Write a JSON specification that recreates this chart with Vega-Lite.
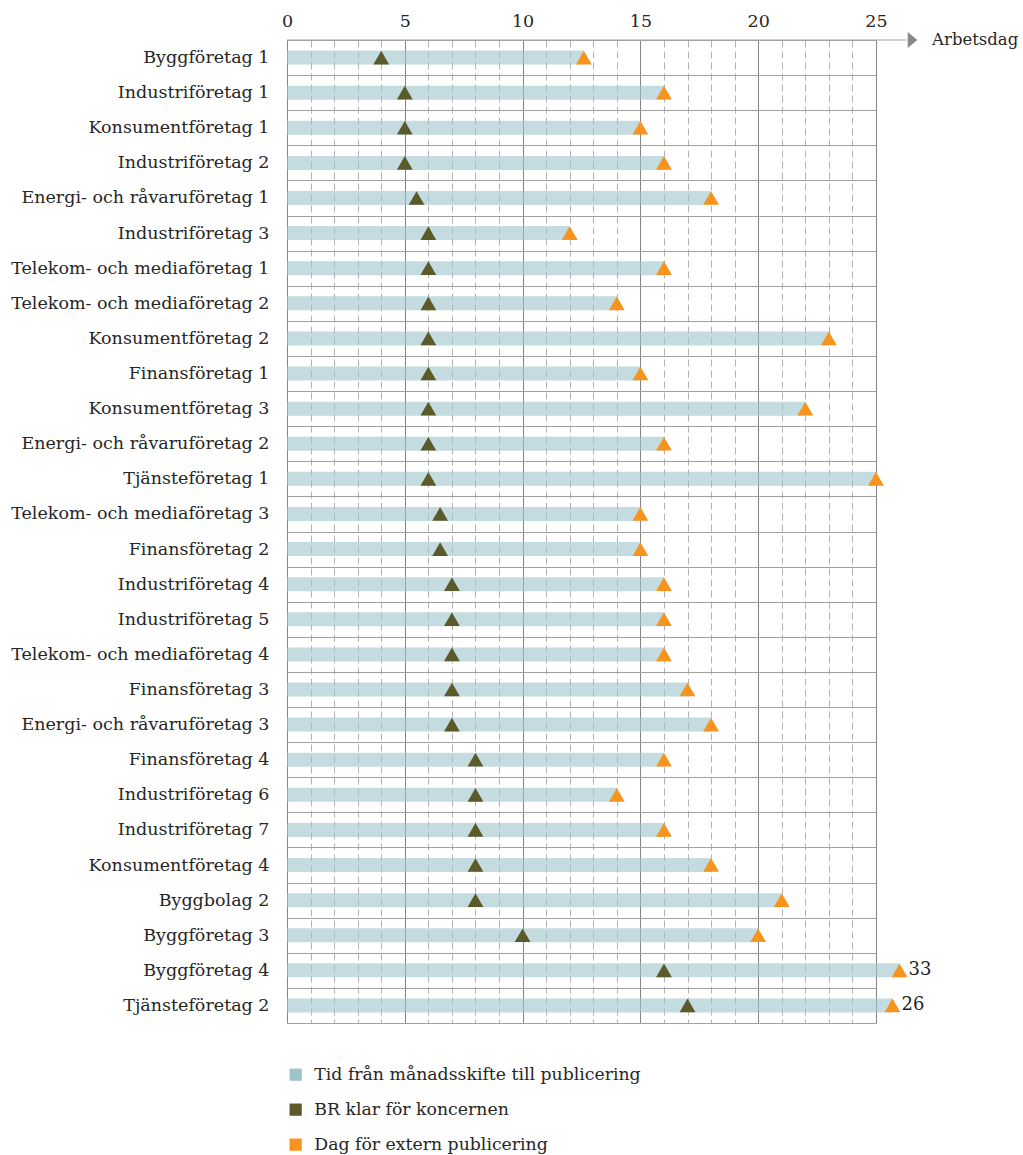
{
  "$schema": "https://vega.github.io/schema/vega-lite/v6.json",
  "autosize": "none",
  "padding": {"left": 287, "top": 40, "right": 147, "bottom": 132},
  "width": 589,
  "height": 983,
  "background": "white",
  "config": {
    "font": "DejaVu Serif",
    "view": {"stroke": null},
    "axisX": {
      "orient": "top",
      "title": null,
      "labelExpr": "datum.value % 5 === 0 ? datum.label : ''",
      "labelFlush": false,
      "domain": false,
      "ticks": false,
      "grid": true,
      "gridColor": {"condition": {"test": "datum.value % 5 === 0", "value": "#858585"}, "value": "#b3b3b3"},
      "gridDash": {"condition": {"test": "datum.value % 5 === 0", "value": []}, "value": [7, 4]},
      "gridWidth": 1,
      "labelFont": "DejaVu Serif",
      "labelFontSize": 17.5,
      "labelColor": "#262626",
      "labelPadding": 10
    }
  },
  "data": {
    "values": [
      {"company": "Byggföretag 1", "br": 4, "pub": 12.6, "label": ""},
      {"company": "Industriföretag 1", "br": 5, "pub": 16, "label": ""},
      {"company": "Konsumentföretag 1", "br": 5, "pub": 15, "label": ""},
      {"company": "Industriföretag 2", "br": 5, "pub": 16, "label": ""},
      {"company": "Energi- och råvaruföretag 1", "br": 5.5, "pub": 18, "label": ""},
      {"company": "Industriföretag 3", "br": 6, "pub": 12, "label": ""},
      {"company": "Telekom- och mediaföretag 1", "br": 6, "pub": 16, "label": ""},
      {"company": "Telekom- och mediaföretag 2", "br": 6, "pub": 14, "label": ""},
      {"company": "Konsumentföretag 2", "br": 6, "pub": 23, "label": ""},
      {"company": "Finansföretag 1", "br": 6, "pub": 15, "label": ""},
      {"company": "Konsumentföretag 3", "br": 6, "pub": 22, "label": ""},
      {"company": "Energi- och råvaruföretag 2", "br": 6, "pub": 16, "label": ""},
      {"company": "Tjänsteföretag 1", "br": 6, "pub": 25, "label": ""},
      {"company": "Telekom- och mediaföretag 3", "br": 6.5, "pub": 15, "label": ""},
      {"company": "Finansföretag 2", "br": 6.5, "pub": 15, "label": ""},
      {"company": "Industriföretag 4", "br": 7, "pub": 16, "label": ""},
      {"company": "Industriföretag 5", "br": 7, "pub": 16, "label": ""},
      {"company": "Telekom- och mediaföretag 4", "br": 7, "pub": 16, "label": ""},
      {"company": "Finansföretag 3", "br": 7, "pub": 17, "label": ""},
      {"company": "Energi- och råvaruföretag 3", "br": 7, "pub": 18, "label": ""},
      {"company": "Finansföretag 4", "br": 8, "pub": 16, "label": ""},
      {"company": "Industriföretag 6", "br": 8, "pub": 14, "label": ""},
      {"company": "Industriföretag 7", "br": 8, "pub": 16, "label": ""},
      {"company": "Konsumentföretag 4", "br": 8, "pub": 18, "label": ""},
      {"company": "Byggbolag 2", "br": 8, "pub": 21, "label": ""},
      {"company": "Byggföretag 3", "br": 10, "pub": 20, "label": ""},
      {"company": "Byggföretag 4", "br": 16, "pub": 26, "label": "33"},
      {"company": "Tjänsteföretag 2", "br": 17, "pub": 25.7, "label": "26"}
    ]
  },
  "encoding": {
    "y": {
      "field": "company",
      "type": "nominal",
      "sort": null,
      "scale": {"paddingInner": 0, "paddingOuter": 0},
      "axis": {
        "title": null,
        "domain": false,
        "ticks": false,
        "grid": true,
        "tickBand": "extent",
        "gridColor": "#a0a0a0",
        "gridWidth": 1,
        "labelFont": "DejaVu Serif",
        "labelFontSize": 17.5,
        "labelColor": "#262626",
        "labelPadding": 18,
        "labelLimit": 400
      }
    }
  },
  "layer": [
    {
      "mark": {"type": "bar", "size": 14, "opacity": 0.6},
      "encoding": {
        "x": {
          "field": "pub",
          "type": "quantitative",
          "scale": {"domain": [0, 25], "nice": false, "zero": true},
          "axis": {"values": [0,1,2,3,4,5,6,7,8,9,10,11,12,13,14,15,16,17,18,19,20,21,22,23,24,25]}
        },
        "color": {
          "datum": "Tid från månadsskifte till publicering",
          "type": "nominal",
          "scale": {
            "domain": ["Tid från månadsskifte till publicering", "BR klar för koncernen", "Dag för extern publicering"],
            "range": ["#9cc4cb", "#5a5a2a", "#f7941e"]
          },
          "legend": {
            "title": null,
            "orient": "none",
            "legendX": 0,
            "legendY": 1026,
            "direction": "vertical",
            "symbolType": "square",
            "symbolSize": 150,
            "symbolOpacity": 1,
            "symbolStrokeWidth": 0,
            "labelFont": "DejaVu Serif",
            "labelFontSize": 17.3,
            "labelColor": "#262626",
            "labelOffset": 10,
            "rowPadding": 17,
            "padding": 0,
            "labelLimit": 500
          }
        }
      }
    },
    {
      "mark": {"type": "point", "shape": "triangle-up", "size": 250, "filled": true, "opacity": 1, "strokeWidth": 0},
      "encoding": {
        "x": {"field": "br", "type": "quantitative", "axis": {"values": [0,1,2,3,4,5,6,7,8,9,10,11,12,13,14,15,16,17,18,19,20,21,22,23,24,25]}},
        "color": {"datum": "BR klar för koncernen", "type": "nominal"}
      }
    },
    {
      "mark": {"type": "point", "shape": "triangle-up", "size": 250, "filled": true, "opacity": 1, "strokeWidth": 0},
      "encoding": {
        "x": {"field": "pub", "type": "quantitative", "axis": {"values": [0,1,2,3,4,5,6,7,8,9,10,11,12,13,14,15,16,17,18,19,20,21,22,23,24,25]}},
        "color": {"datum": "Dag för extern publicering", "type": "nominal"}
      }
    },
    {
      "mark": {"type": "text", "align": "left", "baseline": "middle", "dx": 9, "fontSize": 18, "color": "#222222", "font": "DejaVu Serif"},
      "encoding": {
        "x": {"field": "pub", "type": "quantitative", "axis": {"values": [0,1,2,3,4,5,6,7,8,9,10,11,12,13,14,15,16,17,18,19,20,21,22,23,24,25]}},
        "text": {"field": "label"}
      }
    },
    {
      "transform": [{"filter": "datum.company === 'Byggföretag 1'"}],
      "mark": {"type": "rule", "color": "#a6a6a6", "strokeWidth": 1.2},
      "encoding": {
        "x": {"datum": 0, "type": "quantitative", "axis": {"values": [0,1,2,3,4,5,6,7,8,9,10,11,12,13,14,15,16,17,18,19,20,21,22,23,24,25]}},
        "x2": {"datum": 26.3},
        "y": {"field": "company", "type": "nominal", "sort": null, "bandPosition": 0}
      }
    },
    {
      "transform": [{"filter": "datum.company === 'Byggföretag 1'"}],
      "mark": {"type": "point", "shape": "M -0.6 -1 L 0.6 0 L -0.6 1 Z", "size": 256, "filled": true, "color": "#8a8a8a", "opacity": 1, "strokeWidth": 0},
      "encoding": {
        "x": {"datum": 26.55, "type": "quantitative", "axis": {"values": [0,1,2,3,4,5,6,7,8,9,10,11,12,13,14,15,16,17,18,19,20,21,22,23,24,25]}},
        "y": {"field": "company", "type": "nominal", "sort": null, "bandPosition": 0}
      }
    },
    {
      "transform": [{"filter": "datum.company === 'Byggföretag 1'"}],
      "mark": {"type": "text", "align": "left", "baseline": "middle", "fontSize": 16.5, "color": "#262626", "font": "DejaVu Serif", "text": "Arbetsdag"},
      "encoding": {
        "x": {"datum": 27.38, "type": "quantitative", "axis": {"values": [0,1,2,3,4,5,6,7,8,9,10,11,12,13,14,15,16,17,18,19,20,21,22,23,24,25]}},
        "y": {"field": "company", "type": "nominal", "sort": null, "bandPosition": 0}
      }
    }
  ]
}
